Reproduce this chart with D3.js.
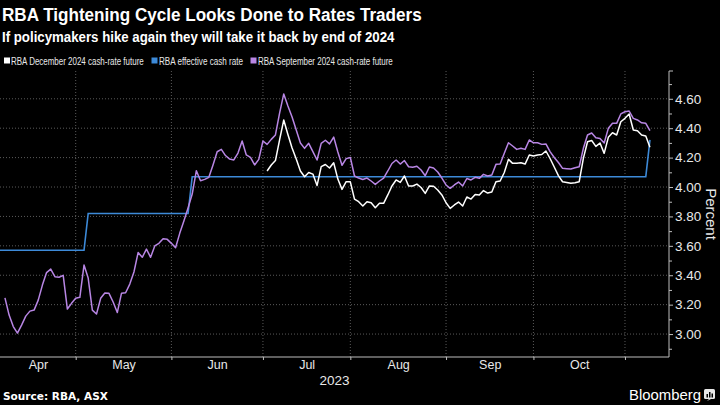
<!DOCTYPE html>
<html><head><meta charset="utf-8">
<script src="https://cdn.jsdelivr.net/npm/d3@7"></script>
<style>html,body{margin:0;padding:0;background:#000;}svg{display:block;}</style>
</head><body>
<svg id="c" width="720" height="405"></svg>
<script>
// ---------------- DATA ----------------
const titleText = "RBA Tightening Cycle Looks Done to Rates Traders";
const subtitleText = "If policymakers hike again they will take it back by end of 2024";
const seriesNames = ["RBA December 2024 cash-rate future", "RBA effective cash rate", "RBA September 2024 cash-rate future"];
const sourceText = "Source: RBA, ASX";

// RBA September 2024 cash-rate future, daily (weekdays) from 2023-04-06
const sepStart = "2023-04-06";
const sepValues = [
 3.246,3.129,3.051,3.007,3.061,3.122,3.156,3.163,3.231,3.333,3.418,3.442,3.390,3.386,3.399,3.170,3.209,
 3.243,3.250,3.469,3.381,3.163,3.136,3.243,3.279,3.277,3.218,
 3.146,3.277,3.281,3.340,3.422,3.554,3.522,3.578,3.522,3.599,
 3.617,3.648,3.644,3.617,3.587,3.685,3.769,3.857,3.952,4.111,
 4.043,4.052,4.066,4.150,4.240,4.256,4.214,4.190,4.184,4.231,
 4.313,4.218,4.202,4.150,4.188,4.313,4.290,4.324,4.354,4.503,
 4.633,4.551,4.476,4.388,4.299,4.263,4.297,4.241,4.184,4.297,
 4.318,4.293,4.340,4.238,4.148,4.193,4.201,4.075,4.061,4.051,
 4.061,4.041,4.018,4.041,4.061,4.109,4.160,4.184,4.156,4.180,
 4.138,4.134,4.141,4.116,4.077,4.136,4.129,4.102,4.061,4.014,
 3.991,4.014,4.034,4.007,4.058,4.048,4.066,4.059,4.086,4.075,
 4.082,4.154,4.156,4.229,4.301,4.279,4.256,4.263,4.256,4.320,
 4.301,4.301,4.290,4.293,4.241,4.201,4.167,4.127,4.125,4.122,
 4.131,4.138,4.263,4.354,4.367,4.335,4.330,4.299,4.399,4.433,
 4.433,4.497,4.512,4.517,4.467,4.456,4.437,4.433,4.383
];

// RBA December 2024 cash-rate future, daily (weekdays) from 2023-07-04
const decStart = "2023-07-04";
const decValues = [
 4.109,4.150,4.180,4.320,
 4.456,4.357,4.265,4.190,4.109,4.070,4.099,4.088,4.010,4.139,
 4.153,4.129,4.165,4.054,3.984,4.036,4.035,3.918,3.900,3.871,
 3.900,3.893,3.859,3.889,3.889,3.946,4.007,4.048,4.031,4.075,
 4.007,4.007,4.020,3.997,3.957,4.007,4.005,3.980,3.946,3.893,
 3.855,3.878,3.898,3.871,3.932,3.918,3.949,3.946,3.976,3.959,
 3.966,4.036,4.041,4.099,4.188,4.161,4.161,4.165,4.156,4.218,
 4.211,4.218,4.221,4.245,4.194,4.136,4.078,4.036,4.031,4.025,
 4.029,4.036,4.195,4.308,4.316,4.276,4.299,4.229,4.338,4.369,
 4.354,4.444,4.467,4.497,4.388,4.383,4.354,4.347,4.270
];

// RBA effective cash rate (points where the step begins / ends)
const cashDates = ["2023-04-04","2023-05-03","2023-05-04","2023-06-07","2023-06-08","2023-11-08","2023-11-09"];
const cashValues = [3.57,3.57,3.82,3.82,4.07,4.07,4.32];

// Axis ticks
const monthStarts = ["2023-05-01","2023-06-01","2023-07-03","2023-08-01","2023-09-01","2023-10-02","2023-11-01"];
const monthLabels = ["Apr","May","Jun","Jul","Aug","Sep","Oct"];
const yearLabel = "2023";
const yTicks = [3.0,3.2,3.4,3.6,3.8,4.0,4.2,4.4,4.6];
const yMinorTicks = [2.9,3.1,3.3,3.5,3.7,3.9,4.1,4.3,4.5,4.7];

// ---------------- LAYOUT ----------------
const W = 720, H = 405;
const plot = {left: 0, right: 669, top: 71, bottom: 357};
const colors = {dec: "#ffffff", cash: "#3d8ad8", sep: "#b886e4", grid: "#5a5a5a", axis: "#bdbdbd", text: "#e8e8e8"};
const SANS = "Liberation Sans, Arial, sans-serif";

const svg = d3.select("#c");
svg.append("rect").attr("width", W).attr("height", H).attr("fill", "#000");

// place a text and squeeze it horizontally to a target width
function fitText(parent, str, x0, y0, width, size, weight, color, family) {
  const gg = parent.append("g");
  const t = gg.append("text").attr("x", 0).attr("y", 0).attr("fill", color)
    .style("font-family", family || SANS).style("font-size", size + "px").style("font-weight", weight || "normal").text(str);
  const w = t.node().getComputedTextLength();
  const s = w > 0 ? width / w : 1;
  gg.attr("transform", `translate(${x0},${y0}) scale(${s},1)`);
  return gg;
}

// trading-day calendar (weekdays)
const fmt = d3.timeFormat("%Y-%m-%d");
const calendar = d3.timeDay.range(new Date(2023,3,3), new Date(2023,11,1)).filter(d => d.getDay() !== 0 && d.getDay() !== 6);
const pos = new Map(calendar.map((d,i) => [fmt(d), i]));
const idx = s => pos.get(s);

const x = d3.scaleLinear().domain([1.81, 162.58]).range([plot.left, plot.right]);
const y = d3.scaleLinear().domain([2.844, 4.789]).range([plot.bottom, plot.top]);

const seriesFrom = (start, vals) => vals.map((v,i) => ({i: idx(start) + i, v}));
const sepData = seriesFrom(sepStart, sepValues);
const decData = seriesFrom(decStart, decValues);
const cashData = cashDates.map((d,k) => ({i: idx(d), v: cashValues[k]}));

// grid
const g = svg.append("g");
g.selectAll("line.hg").data(yTicks).join("line")
  .attr("x1", plot.left).attr("x2", plot.right)
  .attr("y1", d => y(d)).attr("y2", d => y(d))
  .attr("stroke", colors.grid).attr("stroke-width", 1).attr("stroke-dasharray", "1,2");
g.selectAll("line.vg").data(monthStarts).join("line")
  .attr("x1", d => x(idx(d))).attr("x2", d => x(idx(d)))
  .attr("y1", plot.top).attr("y2", plot.bottom)
  .attr("stroke", colors.grid).attr("stroke-width", 1).attr("stroke-dasharray", "1,2");

// clip
svg.append("defs").append("clipPath").attr("id","clip").append("rect")
  .attr("x", plot.left).attr("y", plot.top).attr("width", plot.right - plot.left).attr("height", plot.bottom - plot.top);

const line = d3.line().x(d => x(d.i)).y(d => y(d.v));
const lines = svg.append("g").attr("clip-path", "url(#clip)");
lines.append("path").datum(cashData).attr("d", line).attr("fill","none").attr("stroke", colors.cash).attr("stroke-width", 1.6);
lines.append("path").datum(sepData).attr("d", line).attr("fill","none").attr("stroke", colors.sep).attr("stroke-width", 1.5).attr("stroke-linejoin","round");
lines.append("path").datum(decData).attr("d", line).attr("fill","none").attr("stroke", colors.dec).attr("stroke-width", 1.5).attr("stroke-linejoin","round");

// right axis
const yAxis = d3.axisRight(y).tickValues(yTicks).tickFormat(d3.format(".2f")).tickSize(4).tickPadding(2);
const ya = svg.append("g").attr("transform", `translate(${plot.right},0)`).call(yAxis);
ya.select(".domain").attr("d", `M4,${plot.top}H0V${plot.bottom}`).attr("stroke", colors.axis);
ya.selectAll(".tick line").attr("stroke", colors.axis);
ya.selectAll(".tick text").attr("fill", colors.text).style("font-family", SANS).style("font-size", "13.5px");
const yMinor = d3.axisRight(y).tickValues(yMinorTicks).tickFormat("").tickSize(3);
const ym = svg.append("g").attr("transform", `translate(${plot.right},0)`).call(yMinor);
ym.select(".domain").remove();
ym.selectAll(".tick line").attr("stroke", colors.axis);

// bottom axis
const xAxis = d3.axisBottom(x).tickValues(monthStarts.map(idx)).tickFormat("").tickSize(3);
const xa = svg.append("g").attr("transform", `translate(0,${plot.bottom})`).call(xAxis);
xa.select(".domain").attr("d", `M${plot.left},0H${plot.right}`).attr("stroke", colors.axis);
xa.selectAll(".tick line").attr("stroke", colors.axis);

const bounds = [x.domain()[0], ...monthStarts.map(idx)];
const labelPos = monthLabels.map((m,k) => (bounds[k] + bounds[k+1]) / 2);
const xLab = d3.axisBottom(x).tickValues(labelPos).tickFormat((d,k) => monthLabels[k]).tickSize(0).tickPadding(3);
const xl = svg.append("g").attr("transform", `translate(0,${plot.bottom})`).call(xLab);
xl.select(".domain").remove();
xl.selectAll(".tick text").attr("fill", colors.text).style("font-family", SANS).style("font-size", "12.5px");

svg.append("text").attr("x", (plot.left + plot.right) / 2).attr("y", 385).attr("text-anchor","middle")
  .attr("fill", colors.text).style("font-family", SANS).style("font-size","13.5px").text(yearLabel);

svg.append("text").attr("transform", "translate(706,214) rotate(90)").attr("text-anchor","middle")
  .attr("fill", colors.text).style("font-family", SANS).style("font-size","15px").text("Percent");

// titles
fitText(svg, titleText, 2, 21, 420, 19, "bold", "#fff");
fitText(svg, subtitleText, 2, 42, 393, 15.5, "bold", "#fff");

// legend
const legend = [
  {name: seriesNames[0], color: colors.dec, sx: 4, tx: 11, tw: 133},
  {name: seriesNames[1], color: colors.cash, sx: 151.5, tx: 159, tw: 84},
  {name: seriesNames[2], color: colors.sep, sx: 250.5, tx: 258, tw: 135}
];
const lg = svg.append("g");
lg.selectAll("rect").data(legend).join("rect")
  .attr("x", d => d.sx).attr("y", 57.5).attr("width", 6).attr("height", 6).attr("fill", d => d.color);
legend.forEach(d => fitText(lg, d.name, d.tx, 64.5, d.tw, 11.5, "normal", colors.text));

// footer
fitText(svg, sourceText, 3, 400, 105, 10.5, "bold", "#fff", "DejaVu Sans, sans-serif");
fitText(svg, "Bloomberg", 629, 400, 72, 15, "normal", "#fff");
const icon = svg.append("g").attr("transform", "translate(704,389)");
icon.append("rect").attr("width", 11).attr("height", 10).attr("rx", 1.5).attr("fill", "#e8e8e8");
icon.append("path").attr("d", "M3,12 L5,10 L7,10 Z").attr("fill", "#e8e8e8");
[[2.5,5,1.5,3.5],[5,3,1.5,5.5],[7.5,4.5,1.5,4]].forEach(b => icon.append("rect").attr("x", b[0]).attr("y", b[1]).attr("width", b[2]).attr("height", b[3]).attr("fill", "#000"));
</script>
</body></html>
